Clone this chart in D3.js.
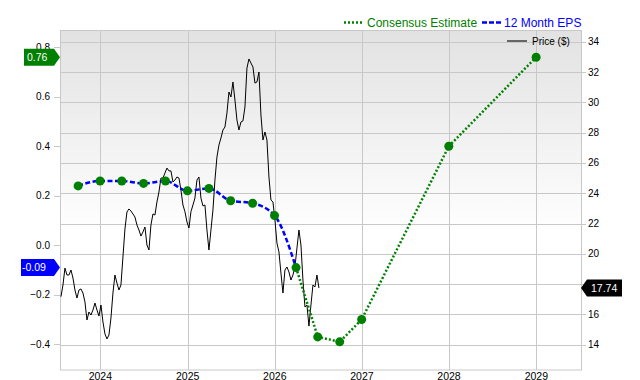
<!DOCTYPE html>
<html lang="en">
<head>
<meta charset="UTF-8">
<title>EPS vs price</title>
<script src="https://cdn.jsdelivr.net/npm/d3@7"></script>
<style>
    body{ margin:0; background:#fff; }
    .chart text{ font-family:"Liberation Sans", Arial, sans-serif; }
</style>
</head>
<body>
<svg class="chart" width="640" height="380"></svg>
<script>
// 12 month EPS (quarterly)
const epsDates = ['2023-09-30','2023-12-31','2024-03-31','2024-06-30','2024-09-30','2024-12-31',
                  '2025-03-31','2025-06-30','2025-09-30','2025-12-31','2026-03-31'];
const epsValues = [0.24,0.26,0.26,0.25,0.26,0.22,0.23,0.18,0.17,0.12,-0.09];

// consensus estimate
const estDates = ['2026-03-31','2026-06-30','2026-09-30','2026-12-31','2027-12-31','2028-12-31'];
const estValues = [-0.09,-0.37,-0.39,-0.30,0.40,0.76];

// share price, evenly spaced between these two dates
const priceFirst = '2023-07-20';
const priceLast = '2026-07-05';
const priceValues = [
    17.17,17.94,19.06,18.60,18.60,18.93,18.40,17.61,17.08,17.61,
    17.68,17.41,16.82,15.63,16.16,15.96,16.29,16.75,16.29,15.89,
    16.62,15.50,14.71,14.38,14.64,15.76,17.41,18.60,18.07,17.61,
    17.94,19.79,21.64,22.76,22.96,22.83,22.63,22.43,21.90,21.57,
    21.17,21.44,21.77,20.58,20.25,21.90,22.63,22.56,23.42,24.08,
    25.00,25.00,25.33,25.66,25.47,25.47,24.74,24.87,25.07,25.00,
    24.21,23.22,22.78,22.10,21.70,22.78,23.22,23.68,24.87,25.07,
    23.68,23.16,23.22,21.57,20.25,21.57,22.89,24.87,26.39,27.18,
    27.64,28.17,28.37,29.29,30.68,30.35,31.34,30.15,28.83,28.17,
    28.70,28.77,29.69,32.26,32.86,32.59,32.33,31.27,31.34,32.00,
    29.16,27.51,28.04,27.51,25.07,23.55,23.42,22.23,20.71,20.12,
    18.73,17.41,18.93,19.13,18.80,18.27,18.60,19.13,20.38,21.57,
    20.58,18.27,16.49,16.62,15.23,16.62,17.94,17.81,18.60,17.74];

const yearTicks = [2024,2025,2026,2027,2028,2029];
const epsTicks = [-0.4,-0.2,0,0.2,0.4,0.6,0.8];
const priceTicks = [14,16,18,20,22,24,26,28,30,32,34];
const lastEps = -0.09, nextEst = 0.76, lastPrice = 17.74;

const plot = {left:60, right:581, top:30.5, bottom:370};
const green = '#008000', blue = '#0000ff', grid = '#c8c8c8';

const parse = d3.utcParse('%Y-%m-%d');

const x = d3.scaleUtc()
            .domain([parse('2023-07-16'), parse('2029-07-07')])
            .range([plot.left, plot.right]);
const yL = d3.scaleLinear().domain([-0.4,0.8]).range([344.3,47.3]);
const yR = d3.scaleLinear().domain([14,34]).range([344.7,41.7]);

const svg = d3.select('.chart');

// background gradient
const grad = svg.append('defs').append('linearGradient')
                .attr('id','bg').attr('x1',0).attr('y1',0).attr('x2',0).attr('y2',1);
grad.append('stop').attr('offset','0%').attr('stop-color','#e2e2e2');
grad.append('stop').attr('offset','60%').attr('stop-color','#ffffff');

svg.append('rect')
    .attr('x',plot.left).attr('y',plot.top)
    .attr('width',plot.right-plot.left).attr('height',plot.bottom-plot.top)
    .attr('fill','url(#bg)');

// grid
svg.append('g').selectAll('line')
    .data(priceTicks).enter().append('line')
    .attr('x1',plot.left).attr('x2',plot.right)
    .attr('y1',d=>Math.round(yR(d))+0.5).attr('y2',d=>Math.round(yR(d))+0.5)
    .attr('stroke',grid);
svg.append('g').selectAll('line')
    .data(yearTicks).enter().append('line')
    .attr('x1',d=>Math.round(x(parse(d+'-01-01')))+0.5).attr('x2',d=>Math.round(x(parse(d+'-01-01')))+0.5)
    .attr('y1',plot.top).attr('y2',plot.bottom)
    .attr('stroke',grid);

svg.append('rect')
    .attr('x',plot.left+0.5).attr('y',plot.top)
    .attr('width',plot.right-plot.left).attr('height',plot.bottom-plot.top)
    .attr('fill','none').attr('stroke',grid);

// left axis
const left = svg.append('g');
left.selectAll('line').data(epsTicks).enter().append('line')
    .attr('x1',54).attr('x2',plot.left)
    .attr('y1',d=>Math.round(yL(d))+0.5).attr('y2',d=>Math.round(yL(d))+0.5)
    .attr('stroke',grid);
left.selectAll('text').data(epsTicks).enter().append('text')
    .attr('x',50).attr('y',d=>yL(d)).attr('dy','0.35em')
    .attr('text-anchor','end').attr('font-size','10px').attr('fill','#000')
    .text(d3.format('.1f'));

// right axis
const right = svg.append('g');
right.selectAll('line').data(priceTicks).enter().append('line')
    .attr('x1',plot.right).attr('x2',plot.right+5)
    .attr('y1',d=>Math.round(yR(d))+0.5).attr('y2',d=>Math.round(yR(d))+0.5)
    .attr('stroke',grid);
right.selectAll('text').data(priceTicks).enter().append('text')
    .attr('x',plot.right+7).attr('y',d=>yR(d)).attr('dy','0.35em')
    .attr('font-size','10px').attr('fill','#000')
    .text(d=>d);

// bottom axis
svg.append('g').selectAll('text').data(yearTicks).enter().append('text')
    .attr('x',d=>x(parse(d+'-01-01'))).attr('y',379.5)
    .attr('text-anchor','middle').attr('font-size','10.5px').attr('fill','#000')
    .text(d=>d);

// price line
const t0 = parse(priceFirst).getTime(), t1 = parse(priceLast).getTime();
const price = priceValues.map((v,i)=>({date:new Date(t0+i*(t1-t0)/(priceValues.length-1)), value:v}));
svg.append('path')
    .datum(price)
    .attr('fill','none').attr('stroke','#000').attr('stroke-width',1)
    .attr('d',d3.line().x(d=>x(d.date)).y(d=>yR(d.value)));

// eps + estimate lines
const eps = epsDates.map((d,i)=>({date:parse(d), value:epsValues[i]}));
const est = estDates.map((d,i)=>({date:parse(d), value:estValues[i]}));
const epsLine = d3.line().curve(d3.curveMonotoneX).x(d=>x(d.date)).y(d=>yL(d.value));
const estLine = d3.line().x(d=>x(d.date)).y(d=>yL(d.value));

svg.append('path').datum(est)
    .attr('fill','none').attr('stroke',green).attr('stroke-width',2.5)
    .attr('stroke-dasharray','2,2').attr('d',estLine);
svg.append('path').datum(eps)
    .attr('fill','none').attr('stroke',blue).attr('stroke-width',2.5)
    .attr('stroke-dasharray','5,2.5').attr('d',epsLine);

svg.append('g').selectAll('circle')
    .data(eps.concat(est.slice(1))).enter().append('circle')
    .attr('cx',d=>x(d.date)).attr('cy',d=>yL(d.value)).attr('r',4.5)
    .attr('fill',green);

// value badges
function badge(yc, x0, x1, tip, pointRight, color, label){
    const h = 8.5;
    const pts = pointRight
        ? [[x0,yc-h],[x1-6,yc-h],[x1,yc],[x1-6,yc+h],[x0,yc+h]]
        : [[x0,yc],[x0+6,yc-h],[x1,yc-h],[x1,yc+h],[x0+6,yc+h]];
    svg.append('path').attr('d','M'+pts.join('L')+'Z').attr('fill',color);
    svg.append('text')
        .attr('x',tip).attr('y',yc).attr('dy','0.36em')
        .attr('font-size','10.5px').attr('fill','#fff')
        .text(label);
}
badge(yL(nextEst), 24, 60, 27, true, green, nextEst.toFixed(2));
badge(yL(lastEps), 21, 60, 22, true, blue, lastEps.toFixed(2));
badge(yR(lastPrice), 581, 622, 591, false, '#000', lastPrice.toFixed(2));

// legend
const legend = svg.append('g').attr('font-size','12px');
legend.append('line').attr('x1',344).attr('x2',363).attr('y1',22.5).attr('y2',22.5)
    .attr('stroke',green).attr('stroke-width',2.5).attr('stroke-dasharray','2,2');
legend.append('text').attr('x',367).attr('y',27).attr('fill',green).text('Consensus Estimate');
legend.append('line').attr('x1',482).attr('x2',501).attr('y1',22.5).attr('y2',22.5)
    .attr('stroke',blue).attr('stroke-width',2.5).attr('stroke-dasharray','5,2');
legend.append('text').attr('x',504).attr('y',27).attr('fill',blue).text('12 Month EPS');

legend.append('line').attr('x1',507).attr('x2',527).attr('y1',41).attr('y2',41)
    .attr('stroke','#666').attr('stroke-width',2);
legend.append('text').attr('x',532).attr('y',44.5).attr('font-size','10px').attr('fill','#000').text('Price ($)');
</script>
</body>
</html>
